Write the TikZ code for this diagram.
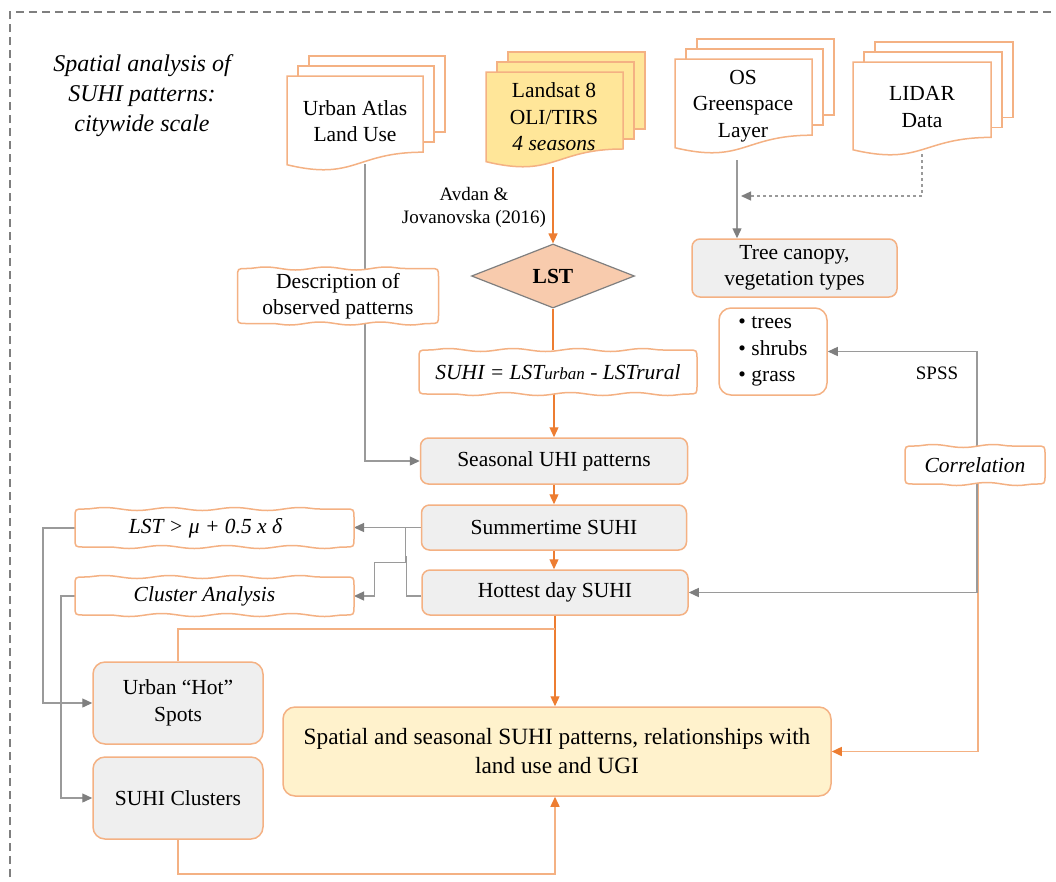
\documentclass[tikz,border=0pt]{standalone}
\usepackage{fontspec}
\setmainfont{Liberation Serif}
\usetikzlibrary{arrows.meta,decorations.pathmorphing,shapes.geometric,calc}
\definecolor{boxor}{HTML}{F4B183}
\definecolor{arror}{HTML}{ED7D31}
\definecolor{lnor}{HTML}{F4B183}
\definecolor{gline}{HTML}{9A9A9A}
\definecolor{ghead}{HTML}{7F7F7F}
\definecolor{gfill}{HTML}{EFEFEF}
\definecolor{yfill}{HTML}{FFE699}
\definecolor{sfill}{HTML}{FFF2CC}
\definecolor{dfill}{HTML}{F8CBAD}
\pgfdeclarelayer{bg}
\pgfdeclarelayer{mid}
\pgfsetlayers{bg,mid,main}
\newcommand{\mdoc}[5]{%
  \foreach \k in {2,1} {
    \filldraw[docline, fill=#5] ({#1+\k*11},{#2-\k*10}) rectangle ({#1+#3+\k*11},{#2+0.802*#4-\k*10});
  }
  \filldraw[docline, fill=#5] (#1,#2) -- ({#1+#3},#2) -- ({#1+#3},{#2+0.802*#4})
    .. controls ({#1+0.5*#3},{#2+0.802*#4}) and ({#1+0.5*#3},{#2+1.107*#4}) .. (#1,{#2+0.934*#4}) -- cycle;
}
\newcommand{\wavybox}[2]{%
  \begin{pgfonlayer}{mid}
  \filldraw[wavyline, decoration={snake, segment length=#2, amplitude=1.5pt}]
    ($(#1.north west)+(0,9)$) .. controls (#1.north west) .. ($(#1.north west)+(9,0)$)
    decorate{ -- ($(#1.north east)+(-9,0)$) }
    .. controls (#1.north east) .. ($(#1.north east)+(0,9)$)
    -- ($(#1.south east)+(0,-9)$)
    .. controls (#1.south east) .. ($(#1.south east)+(-9,0)$)
    decorate{ -- ($(#1.south west)+(9,0)$) }
    .. controls (#1.south west) .. ($(#1.south west)+(0,-9)$)
    -- cycle;
  \end{pgfonlayer}
}
\begin{document}
\begin{tikzpicture}[x=1pt,y=-1pt,
  body/.style={font=\fontsize{21.5}{26.5}\selectfont, align=center, inner sep=0pt},
  gbox/.style={body, draw=boxor, line width=1.5pt, fill=gfill, rounded corners=8pt},
  wtext/.style={body, outer sep=0pt},
  wavyline/.style={draw=boxor, line width=1.5pt, fill=white},
  docline/.style={draw=boxor, line width=1.5pt},
  oarrow/.style={draw=arror, line width=1.2pt, -{Triangle[length=10pt,width=9pt]}},
  oline/.style={draw=lnor, line width=1.5pt},
  larrow/.style={draw=lnor, line width=1.5pt, -{Triangle[length=10pt,width=9pt,color=arror]}},
  garrow/.style={draw=gline, line width=1.3pt, -{Triangle[length=10pt,width=9pt,color=ghead]}},
  gline/.style={draw=gline, line width=1.3pt},
  ]
\useasboundingbox (0,0) rectangle (1056,881);
% frame
\draw[draw=ghead, dash pattern=on 8pt off 5pt, line width=1.2pt] (10,890) -- (10,12) -- (1060,12);

% title
\node[font=\fontsize{24}{30}\selectfont\itshape, align=center] (title) at (142,96)
  {Spatial analysis of\\SUHI patterns:\\citywide scale};

% documents
\mdoc{287}{76}{136}{95}{white}
\mdoc{486}{72}{137}{96}{yfill}
\mdoc{675}{59}{137}{95}{white}
\mdoc{853}{62}{138}{94}{white}
\node[body] (ua) at (355,121) {Urban Atlas\\Land Use};
\node[body] (ls) at (554,117) {Landsat 8\\OLI/TIRS\\\textit{4 seasons}};
\node[body] (os) at (743,106) {OS\\Greenspace\\Layer};
\node[body] (li) at (922,107) {LIDAR\\Data};
\coordinate (uab) at (365,164);
\coordinate (lsb) at (553,167);
\coordinate (osb) at (737,160);
\coordinate (lib) at (922,154);
\coordinate (lij) at (741,196);

\node[font=\fontsize{19}{23}\selectfont, align=center] (avdan) at (474,207)
  {Avdan \&\\Jovanovska (2016)};

% main column
\node[diamond, draw=ghead, fill=dfill, line width=1.2pt, minimum width=163pt,
  minimum height=64pt, inner sep=0pt, font=\fontsize{21.5}{26}\selectfont\bfseries] (lstd) at (553,276) {LST};
\node[wtext, minimum width=201pt, minimum height=55pt] (desc) at (338,296)
  {Description of\\observed patterns};
\wavybox{desc}{60.5pt}
\node[wtext, minimum width=278pt, minimum height=44pt] (form) at (558,372)
  {\itshape SUHI = LST{\fontsize{17}{17}\selectfont urban} - LSTrural};
\wavybox{form}{64.9pt}
\node[gbox, minimum width=267pt, minimum height=46pt] (seas) at (554,461) {Seasonal UHI patterns};
\node[gbox, minimum width=265pt, minimum height=45pt] (summ) at (554,527.5) {Summertime SUHI};
\node[gbox, minimum width=266pt, minimum height=45pt] (hot) at (555,592.5) {Hottest day SUHI};

% left side
\node[wtext, minimum width=279pt, minimum height=38pt] (gt) at (214.5,528)
  {\itshape LST > μ + 0.5 x δ\hspace*{18pt}};
\wavybox{gt}{65.2pt}
\node[wtext, minimum width=279pt, minimum height=38pt] (clus) at (214.5,596)
  {\itshape Cluster Analysis\hspace*{20pt}};
\wavybox{clus}{65.2pt}
\node[gbox, rounded corners=12pt, minimum width=170pt, minimum height=82pt] (hs) at (178,703)
  {Urban “Hot”\\Spots};
\node[gbox, rounded corners=12pt, minimum width=170pt, minimum height=82pt] (sc) at (178,798)
  {SUHI Clusters};

% result
\node[gbox, fill=sfill, rounded corners=12pt, minimum width=548pt, minimum height=89pt,
  font=\fontsize{23.3}{29}\selectfont] (spat) at (557,751.5)
  {Spatial and seasonal SUHI patterns, relationships with\\land use and UGI};

% right side
\node[gbox, minimum width=205pt, minimum height=58pt] (tree) at (794.5,268)
  {Tree canopy,\\vegetation types};
\node[body, draw=boxor, line width=1.5pt, fill=white, rounded corners=12pt, align=left,
  minimum width=108pt, minimum height=87pt] (bul) at (773,351.5)
  {• trees\\• shrubs\\• grass};
\node[wtext, minimum width=140pt, minimum height=38pt] (corr) at (975,465)
  {\itshape Correlation};
\wavybox{corr}{60.5pt}
\node[font=\fontsize{19}{23}\selectfont] (spss) at (937,373) {SPSS};

\begin{pgfonlayer}{bg}
  \draw[oarrow] (lsb) -- (lstd.north);
  \draw[garrow] (uab) |- (seas.west);
  \draw[draw=arror, line width=1.2pt] (lstd.south) -- (lstd.south |- form.north);
  \draw[oarrow] (form.south -| seas.north) -- (seas.north);
  \draw[oarrow] (seas.south) -- (summ.north);
  \draw[oarrow] (summ.south) -- (summ.south |- hot.north);
  \draw[oarrow] (hot.south) -- (hot.south |- spat.north);
  \draw[oline] (hs.north) |- (hot.south |- 0,629);
  \draw[larrow] (sc.south) -- ++(0,34) -| (hot.south |- spat.south);
  \draw[larrow] ([xshift=3pt]corr.south) |- (spat.east);
  \draw[garrow] ([xshift=2pt]corr.south) |- (hot.east);
  \draw[garrow] ([xshift=2pt]corr.north) |- (bul.east);
  \draw[garrow] (osb) -- (osb |- tree.north);
  \draw[garrow, dashed] (lib) |- (lij);
  \draw[garrow] (summ.west) -- (gt.east |- summ.west);
  \draw[garrow] (summ.west) -- ++(-15,0) -- ++(0,35) -- ++(-31,0) |- (clus.east);
  \draw[gline] (hot.west |- clus.east) -- ++(-15,0) -- ++(0,-40);
  \draw[garrow] (gt.west) -- ++(-32,0) |- (hs.west);
  \draw[garrow] (clus.west) -- ++(-14,0) |- (sc.west);
\end{pgfonlayer}
\end{tikzpicture}
\end{document}
